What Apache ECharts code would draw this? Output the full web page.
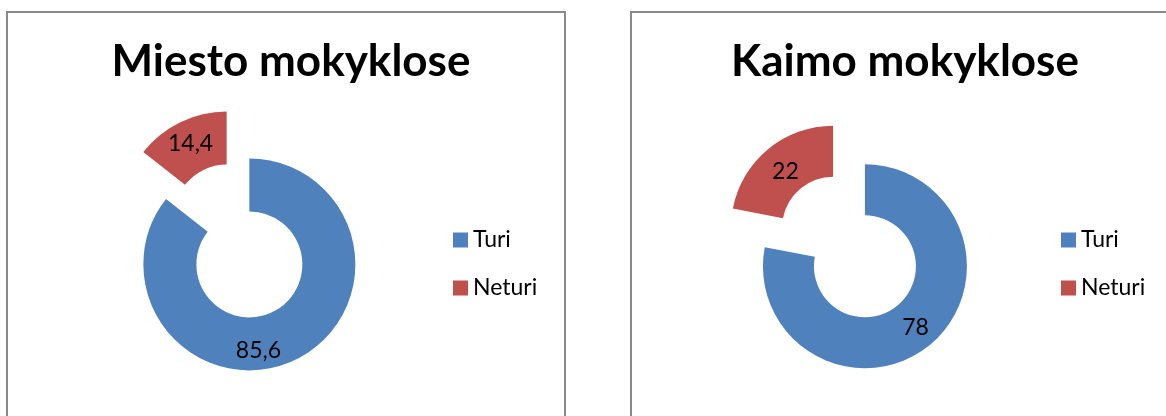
<!DOCTYPE html>
<html>
<head>
<meta charset="utf-8">
<script src="https://cdn.jsdelivr.net/npm/echarts@6/dist/echarts.min.js"></script>
<style>
  html, body { margin: 0; padding: 0; background: #fff; }
  #main { width: 1166px; height: 416px; }
</style>
</head>
<body>
<div id="main"></div>
<script>
  // data
  var categories = ['Turi', 'Neturi'];
  var titles = ['Miesto mokyklose', 'Kaimo mokyklose'];
  var miestoValues = [85.6, 14.4];
  var kaimoValues = [78, 22];
  var colors = ['#4F81BD', '#C0504D'];

  var chart = echarts.init(document.getElementById('main'));

  function makeData(values) {
    return values.map(function (v, i) {
      return { name: categories[i], value: v, selected: true, itemStyle: { color: colors[i] } };
    });
  }

  // Excel style decimal comma
  function fmt(p) {
    return String(p.value).replace('.', ',');
  }

  var font = 'Lato, "Open Sans", sans-serif';

  var option = {
    animation: false,
    backgroundColor: '#fff',
    graphic: [
      { type: 'rect', shape: { x: 7, y: 12, width: 558, height: 420 }, style: { fill: 'none', stroke: '#8a8a8a', lineWidth: 2 } },
      { type: 'rect', shape: { x: 631, y: 12, width: 560, height: 420 }, style: { fill: 'none', stroke: '#8a8a8a', lineWidth: 2 } }
    ],
    title: [
      { text: titles[0], left: 286, top: 35, textAlign: 'center',
        textStyle: { fontFamily: font, fontWeight: 'bold', fontSize: 44, color: '#000' } },
      { text: titles[1], left: 900, top: 35, textAlign: 'center',
        textStyle: { fontFamily: font, fontWeight: 'bold', fontSize: 44, color: '#000' } }
    ],
    legend: [
      { data: categories, orient: 'vertical', left: 448, top: 223, icon: 'rect',
        itemWidth: 15, itemHeight: 15, itemGap: 24, selectedMode: false,
        textStyle: { fontFamily: font, fontSize: 23, color: '#000', lineHeight: 24 } },
      { data: categories, orient: 'vertical', left: 1056, top: 223, icon: 'rect',
        itemWidth: 15, itemHeight: 15, itemGap: 24, selectedMode: false,
        textStyle: { fontFamily: font, fontSize: 23, color: '#000', lineHeight: 24 } }
    ],
    series: [
      {
        name: titles[0],
        type: 'pie',
        center: [238, 241],
        radius: [53, 106],
        startAngle: 90,
        selectedMode: 'multiple',
        selectedOffset: 26,
        emphasis: { scale: false },
        label: { show: true, position: 'inside', formatter: fmt,
          fontFamily: font, fontSize: 23, color: '#000' },
        labelLine: { show: false },
        labelLayout: function (p) {
          // Excel nudged the big label towards the bottom
          if (p.dataIndex === 0) return { dx: -27, dy: 12 };
          return {};
        },
        data: makeData(miestoValues)
      },
      {
        name: titles[1],
        type: 'pie',
        center: [849, 247],
        radius: [51, 102],
        startAngle: 90,
        selectedMode: 'multiple',
        selectedOffset: 25,
        emphasis: { scale: false },
        label: { show: true, position: 'inside', formatter: fmt,
          fontFamily: font, fontSize: 23, color: '#000' },
        labelLine: { show: false },
        labelLayout: function (p) {
          if (p.dataIndex === 1) return { dx: 3, dy: 5 };
          return {};
        },
        data: makeData(kaimoValues)
      }
    ]
  };

  chart.setOption(option);
</script>
</body>
</html>
